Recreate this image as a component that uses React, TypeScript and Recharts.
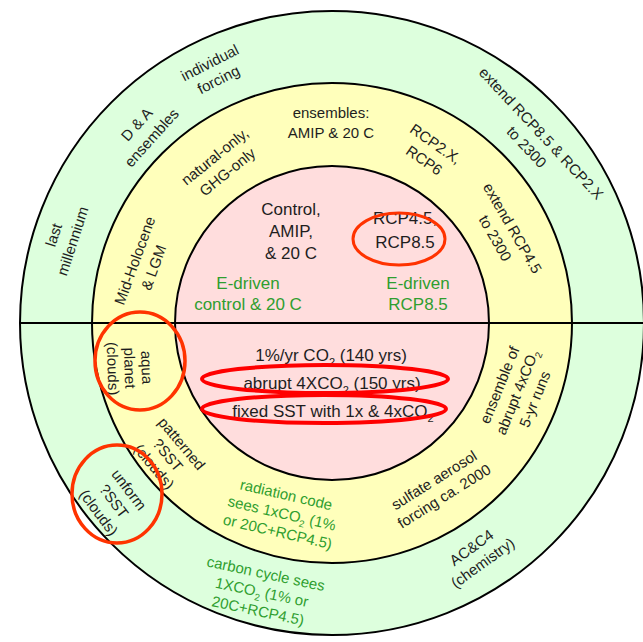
import React from "react";
import { PieChart, Pie, Cell } from "recharts";

// experiment tiers, outer to inner
const tiers = ["Tier 2", "Tier 1", "Core"];
// every disk is cut in two by the horizontal line
const halves = ["long-term", "short-term"];
const halfShare = [1, 1];

// label texts ("₂" is drawn as a subscript 2)
const coreUpper = [
  ["Control,", "AMIP,", "& 20 C"],
  ["RCP4.5,", "RCP8.5"],
];
const coreGreen = [
  ["E-driven", "control & 20 C"],
  ["E-driven", "RCP8.5"],
];
const coreLower = [
  ["1%/yr CO₂ (140 yrs)"],
  ["abrupt 4XCO₂ (150 yrs)"],
  ["fixed SST with 1x & 4xCO₂"],
];
const tier1Labels = [
  ["ensembles:", "AMIP & 20 C"],
  ["natural-only,", "GHG-only"],
  ["Mid-Holocene", "& LGM"],
  ["RCP2.X,", "RCP6"],
  ["extend RCP4.5", "to 2300"],
  ["aqua", "planet", "(clouds)"],
  ["patterned", "?SST", "(clouds)"],
  ["sulfate aerosol", "forcing ca. 2000"],
  ["ensemble of", "abrupt 4xCO₂", "5-yr runs"],
];
const tier1Green = [["radiation code", "sees 1xCO₂ (1%", "or 20C+RCP4.5)"]];
const tier2Labels = [
  ["individual", "forcing"],
  ["D & A", "ensembles"],
  ["last", "millennium"],
  ["extend RCP8.5 & RCP2.X", "to 2300"],
  ["unform", "?SST", "(clouds)"],
  ["AC&C4", "(chemistry)"],
];
const tier2Green = [["carbon cycle sees", "1XCO₂ (1% or", "20C+RCP4.5)"]];

// ---- layout ----
const CX = 332;
const CY = 323;
const RADII = [312, 240, 157];
const FILLS = ["#ddffdd", "#ffffbb", "#ffdddd"];
const FONT = "'Liberation Sans', Arial, Helvetica, sans-serif";
const BLACK = "#1e1e1e";
const GREEN = "#2f9e2f";

// [x, y, rotation, lineHeight]
const coreUpperPos = [
  [291, 231, 0, 22],
  [405, 230, 0, 24],
];
const coreGreenPos = [
  [248, 293, 0, 21],
  [418, 293, 0, 21],
];
const coreLowerPos = [
  [331, 355, 0, 0],
  [332, 383, 0, 0],
  [333, 411, 0, 0],
];
const tier1Pos = [
  [331, 123, 0, 20],
  [221, 164, -39, 20],
  [144, 264, -70, 20],
  [430, 152, 35, 20],
  [504, 233, 60, 20],
  [130, 368, 88, 17],
  [168, 455, 50, 18],
  [439, 488, -32, 19],
  [517, 392, -68, 19],
];
const tier1GreenPos = [[282, 513, 13, 19]];
const tier2Pos = [
  [214, 71, -27, 19],
  [144, 131, -48, 20],
  [63, 238, -72, 20],
  [534, 140, 47, 20],
  [114, 501, 53, 19],
  [477, 555, -36, 19],
];
const tier2GreenPos = [[262, 592, 12, 19]];

const withSub = (line: string, size: number) => {
  const parts = line.split("₂");
  const out: React.ReactNode[] = [];
  parts.forEach((p, i) => {
    if (i > 0) {
      out.push(
        <tspan key={`s${i}`} fontSize={size * 0.65} dy={size * 0.28}>
          2
        </tspan>
      );
      if (p) out.push(<tspan key={`p${i}`} dy={-size * 0.28}>{p}</tspan>);
    } else if (p) {
      out.push(<tspan key={`p${i}`}>{p}</tspan>);
    }
  });
  return out;
};

const Block = ({ lines, pos, size, color }: any) => {
  const [x, y, rot, lh] = pos;
  const n = lines.length;
  return (
    <g transform={`translate(${x},${y}) rotate(${rot})`}>
      {lines.map((ln: string, i: number) => (
        <text
          key={i}
          x={0}
          y={(i - (n - 1) / 2) * lh + size * 0.36}
          textAnchor='middle'
          fontSize={size}
          fontFamily={FONT}
          fill={color}>
          {withSub(ln, size)}
        </text>
      ))}
    </g>
  );
};

const group = (labels: string[][], pos: number[][], size: number, color: string) =>
  labels.map((lines, i) => (
    <Block key={lines.join("|")} lines={lines} pos={pos[i]} size={size} color={color} />
  ));

// drawn on top of the chart
const Annotations = () => (
  <svg
    width={643}
    height={642}
    style={{ position: "absolute", left: 0, top: 0, pointerEvents: "none" }}>
    {group(coreUpper, coreUpperPos, 17, BLACK)}
    {group(coreGreen, coreGreenPos, 17, GREEN)}
    {group(coreLower, coreLowerPos, 17, BLACK)}
    {group(tier1Labels, tier1Pos, 15, BLACK)}
    {group(tier1Green, tier1GreenPos, 15, GREEN)}
    {group(tier2Labels, tier2Pos, 15, BLACK)}
    {group(tier2Green, tier2GreenPos, 15, GREEN)}
    {/* red highlight rings */}
    <ellipse cx={399} cy={239} rx={46} ry={26} fill='none' stroke='#ff3300' strokeWidth={3} />
    <ellipse cx={325} cy={379} rx={123} ry={14} fill='none' stroke='#ff0000' strokeWidth={4} />
    <ellipse cx={324} cy={409} rx={122} ry={14} fill='none' stroke='#ff0000' strokeWidth={4} />
    <ellipse cx={140} cy={361} rx={45} ry={49} fill='none' stroke='#ff3300' strokeWidth={3.5} />
    <ellipse cx={117} cy={494} rx={45} ry={49} fill='none' stroke='#ff3300' strokeWidth={3.5} />
  </svg>
);

const pieData = halves.map((h, i) => ({ name: h, value: halfShare[i] }));

export default function App() {
  return (
    <div
      style={{
        position: "absolute",
        left: 0,
        top: 0,
        width: 643,
        height: 642,
        background: "#fff",
      }}>
      <PieChart width={643} height={642} margin={{ top: 0, right: 0, bottom: 0, left: 0 }}>
        {tiers.map((t, ti) => (
          <Pie
            key={t}
            data={pieData}
            dataKey='value'
            nameKey='name'
            cx={CX}
            cy={CY}
            innerRadius={0}
            outerRadius={RADII[ti]}
            startAngle={0}
            endAngle={360}
            isAnimationActive={false}>
            {pieData.map((d) => (
              <Cell key={d.name} fill={FILLS[ti]} stroke='#000' strokeWidth={2} />
            ))}
          </Pie>
        ))}
      </PieChart>
      <Annotations />
    </div>
  );
}
